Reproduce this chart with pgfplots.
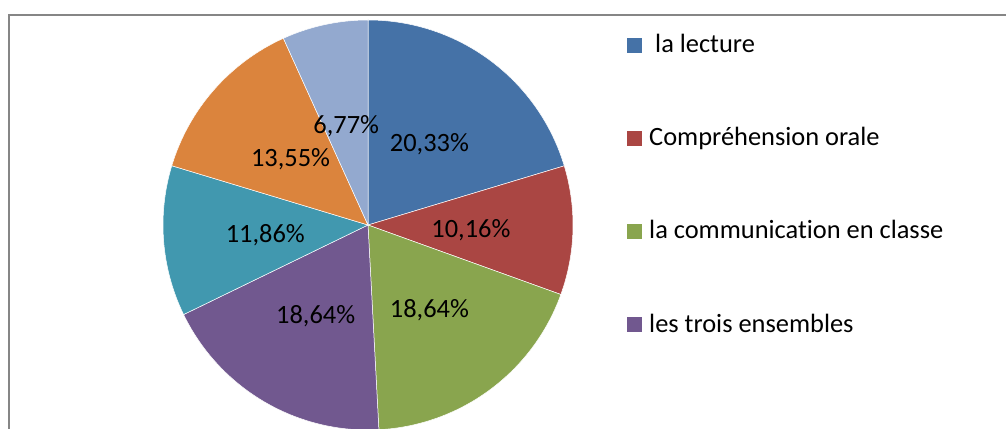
\documentclass[border=0pt]{standalone}
\usepackage{fontspec}
\setmainfont{Carlito}[Ligatures={NoCommon}]
\usepackage{pgfplots}
\usepackage{pgfplotstable}
\pgfplotsset{compat=1.18}

\definecolor{c0}{HTML}{4572A7}
\definecolor{c1}{HTML}{AA4643}
\definecolor{c2}{HTML}{89A54E}
\definecolor{c3}{HTML}{71588F}
\definecolor{c4}{HTML}{4198AF}
\definecolor{c5}{HTML}{DB843D}
\definecolor{c6}{HTML}{93A9CF}
\definecolor{framegray}{HTML}{868686}

% slice values (percent), clockwise from 12 o'clock
\pgfplotstableread{
value
20.33
10.16
18.64
18.64
11.86
13.55
6.77
}\piedata

\def\cx{368}
\def\cy{203}
\def\R{205}
\def\total{99.95}

\begin{document}
\begin{tikzpicture}
\begin{axis}[
  scale only axis,
  width=1006bp, height=428bp,
  xmin=0, xmax=1006, ymin=0, ymax=428,
  hide axis, clip=true,
]
\pgfplotsextra{%
  % frame
  \draw[framegray, line width=1.5bp] (axis cs:9,-10) -- (axis cs:9,413) -- (axis cs:1020,413);
  % slices
  \gdef\cum{0}%
  \foreach \i in {0,...,6}{%
    \pgfplotstablegetelem{\i}{value}\of\piedata
    \let\v\pgfplotsretval
    \pgfmathsetmacro\a{90-\cum/\total*360}%
    \pgfmathsetmacro\b{90-(\cum+\v)/\total*360}%
    \fill[c\i, draw=white, line width=0.5bp] (axis cs:\cx,\cy) -- ++(\a:\R bp) arc[start angle=\a, end angle=\b, radius=\R bp] -- cycle;
    \pgfmathsetmacro\newcum{\cum+\v}%
    \xdef\cum{\newcum}%
  }
  % labels
  \gdef\cum{0}%
  \foreach \i in {0,...,6}{%
    \pgfplotstablegetelem{\i}{value}\of\piedata
    \let\v\pgfplotsretval
    \pgfmathsetmacro\m{90-(\cum+\v/2)/\total*360}%
    \pgfmathsetmacro\lx{\cx+103*cos(\m)}%
    \pgfmathsetmacro\ly{\cy+103*sin(\m)-9.6}%
    \node[anchor=base, font=\fontsize{26.4bp}{30bp}\selectfont, text=black, inner sep=0pt] at (axis cs:\lx,\ly)
      {\pgfmathprintnumber[fixed,fixed zerofill,precision=2,use comma,assume math mode=true]{\v}\%};
    \pgfmathsetmacro\newcum{\cum+\v}%
    \xdef\cum{\newcum}%
  }
  % legend
  \foreach \col/\yb/\txt in {c0/375/{\hspace{6bp}la lecture}, c1/282/{Compréhension orale}, c2/189/{la communication en classe}, c3/96/{les trois ensembles}}{%
    \fill[\col] (axis cs:627,\yb) rectangle (axis cs:642,\yb+15);
    \node[anchor=base west, inner sep=0pt, font=\fontsize{26.4bp}{30bp}\selectfont, text=black] at (axis cs:649,\yb) {\txt};
  }
}
\end{axis}
\pgfresetboundingbox
\useasboundingbox (current axis.south west) rectangle (current axis.north east);
\end{tikzpicture}
\end{document}
